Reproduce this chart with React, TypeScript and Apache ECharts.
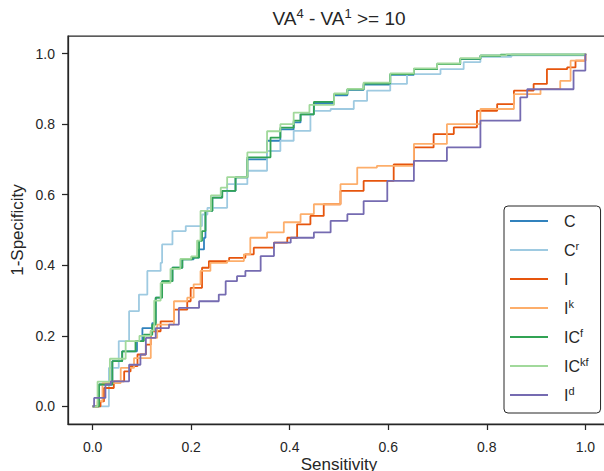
import React, { useEffect, useRef } from "react";
import * as echarts from "echarts";

const TICKS = [0, 0.2, 0.4, 0.6, 0.8, 1.0];

const C_PTS = [[0,0],[0.013,0.062],[0.04,0.128],[0.06,0.156],[0.09,0.185],[0.101,0.222],[0.121,0.236],[0.128,0.308],[0.141,0.355],[0.162,0.393],[0.182,0.417],[0.205,0.422],[0.216,0.445],[0.226,0.478],[0.229,0.554],[0.243,0.592],[0.263,0.611],[0.29,0.649],[0.314,0.7],[0.354,0.753],[0.381,0.785],[0.408,0.805],[0.422,0.828],[0.449,0.86],[0.49,0.882],[0.517,0.897],[0.55,0.912],[0.604,0.94],[0.652,0.956],[0.699,0.97],[0.746,0.985],[0.787,0.994],[0.85,0.997],[1,1]];
const CR_PTS = [[0,0],[0.033,0.109],[0.053,0.185],[0.074,0.27],[0.094,0.317],[0.111,0.384],[0.138,0.407],[0.141,0.459],[0.162,0.497],[0.189,0.511],[0.212,0.511],[0.222,0.544],[0.233,0.563],[0.273,0.63],[0.314,0.668],[0.354,0.724],[0.381,0.753],[0.408,0.781],[0.442,0.828],[0.449,0.838],[0.483,0.843],[0.53,0.866],[0.557,0.895],[0.604,0.914],[0.638,0.942],[0.706,0.956],[0.753,0.976],[0.787,0.991],[0.85,0.995],[1,1]];
const I_PTS = [[0,0],[0.016,0.014],[0.023,0.052],[0.043,0.071],[0.064,0.099],[0.077,0.114],[0.091,0.147],[0.108,0.175],[0.118,0.213],[0.138,0.241],[0.165,0.274],[0.192,0.298],[0.199,0.336],[0.222,0.393],[0.236,0.412],[0.27,0.412],[0.277,0.421],[0.31,0.431],[0.327,0.45],[0.368,0.464],[0.395,0.478],[0.415,0.516],[0.442,0.54],[0.469,0.573],[0.503,0.611],[0.55,0.639],[0.611,0.686],[0.652,0.734],[0.692,0.772],[0.733,0.791],[0.78,0.838],[0.821,0.857],[0.855,0.895],[0.895,0.914],[0.922,0.956],[0.963,0.961],[0.98,0.98],[1,1]];
const IK_PTS = [[0,0],[0.01,0.014],[0.02,0.066],[0.057,0.109],[0.084,0.137],[0.118,0.194],[0.131,0.232],[0.165,0.298],[0.192,0.308],[0.205,0.346],[0.219,0.384],[0.239,0.407],[0.273,0.412],[0.307,0.431],[0.32,0.478],[0.354,0.493],[0.388,0.522],[0.422,0.545],[0.449,0.573],[0.503,0.63],[0.537,0.677],[0.577,0.682],[0.652,0.744],[0.719,0.8],[0.787,0.843],[0.855,0.885],[0.909,0.9],[0.949,0.923],[0.97,0.98],[1,1]];
const ICF_PTS = [[0,0],[0.013,0.062],[0.04,0.128],[0.06,0.156],[0.087,0.185],[0.104,0.203],[0.121,0.232],[0.128,0.308],[0.141,0.355],[0.162,0.393],[0.182,0.417],[0.202,0.422],[0.216,0.469],[0.222,0.497],[0.229,0.554],[0.243,0.592],[0.263,0.611],[0.29,0.649],[0.314,0.706],[0.361,0.762],[0.381,0.79],[0.408,0.81],[0.422,0.828],[0.449,0.863],[0.49,0.885],[0.517,0.899],[0.55,0.915],[0.604,0.942],[0.652,0.956],[0.699,0.97],[0.746,0.985],[0.787,0.994],[0.828,0.997],[1,1]];
const ICKF_PTS = [[0,0],[0.01,0.07],[0.035,0.135],[0.067,0.185],[0.095,0.2],[0.118,0.215],[0.125,0.3],[0.138,0.35],[0.158,0.39],[0.178,0.418],[0.2,0.425],[0.212,0.47],[0.219,0.554],[0.24,0.598],[0.26,0.62],[0.273,0.65],[0.314,0.72],[0.354,0.78],[0.381,0.8],[0.408,0.833],[0.44,0.855],[0.49,0.887],[0.517,0.9],[0.55,0.918],[0.604,0.944],[0.652,0.958],[0.699,0.972],[0.746,0.987],[0.787,0.995],[0.84,0.998],[1,1]];
const ID_PTS = [[0,0],[0.003,0.024],[0.026,0.062],[0.037,0.071],[0.074,0.118],[0.097,0.147],[0.108,0.194],[0.128,0.222],[0.155,0.232],[0.175,0.279],[0.216,0.298],[0.256,0.317],[0.27,0.355],[0.293,0.369],[0.31,0.384],[0.341,0.426],[0.368,0.464],[0.402,0.478],[0.449,0.493],[0.483,0.526],[0.517,0.545],[0.55,0.582],[0.598,0.639],[0.652,0.696],[0.719,0.734],[0.787,0.81],[0.868,0.876],[0.882,0.899],[0.936,0.899],[0.976,0.952],[1,1]];

const SERIES_NAMES = ["C", "Cr", "I", "Ik", "ICf", "ICkf", "Id"];
const LEGEND_BASE = ["C", "C", "I", "I", "IC", "IC", "I"];
const LEGEND_SUP = ["", "r", "", "k", "f", "kf", "d"];
const COLORS = ["#3182bd", "#9ecae1", "#e6550d", "#fdae6b", "#31a354", "#a1d99b", "#756bb1"];
const SERIES_DATA = [C_PTS, CR_PTS, I_PTS, IK_PTS, ICF_PTS, ICKF_PTS, ID_PTS];

const TXT = "#262626";
const FONT = "Liberation Sans";
// legend line icon: a 38x20 box with a 2px bar through its middle
const LINE_ICON = "path://M0,0L0.01,0L0,0.01Z M0,9L38,9L38,11L0,11Z M38,20L37.99,20L38,19.99Z";

export default function App() {
  const ref = useRef<HTMLDivElement>(null);
  useEffect(() => {
    const chart = echarts.init(ref.current!, null, { renderer: "svg" });
    const axisCommon = {
      type: "value",
      min: -0.05,
      max: 1.05,
      nameLocation: "middle",
      nameMoveOverlap: false,
      nameTextStyle: { fontSize: 17, color: TXT, fontFamily: FONT },
      axisLine: { show: true, onZero: false, lineStyle: { color: TXT, width: 1.25 } },
      axisTick: { show: true, length: 6, inside: false, customValues: TICKS, lineStyle: { color: TXT, width: 1.25 } },
      splitLine: { show: false },
    };
    const labelCommon = { customValues: TICKS, formatter: (v: number) => v.toFixed(1), fontSize: 14, color: TXT, fontFamily: FONT };
    chart.setOption({
      animation: false,
      backgroundColor: "#fff",
      title: {
        text: "{b|VA}{s|4}{b| - VA}{s|1}{b| >= 10}",
        left: 339,
        textAlign: "center",
        top: 7,
        padding: 0,
        textStyle: {
          fontFamily: FONT,
          color: TXT,
          fontWeight: "normal",
          fontSize: 19,
          rich: {
            b: { fontSize: 19, lineHeight: 22, color: TXT, fontFamily: FONT },
            s: { fontSize: 13, lineHeight: 12, verticalAlign: "top", color: TXT, fontFamily: FONT },
          },
        },
      },
      grid: { left: 68, top: 36, width: 542, height: 388, show: true, borderColor: TXT, borderWidth: 1.25, containLabel: false, outerBoundsMode: "none" },
      xAxis: { ...axisCommon, name: "Sensitivity", nameGap: 32, axisLabel: { ...labelCommon, margin: 16 } },
      yAxis: { ...axisCommon, name: "1-Specificity", nameGap: 42, axisLabel: { ...labelCommon, margin: 13 } },
      legend: {
        orient: "vertical",
        left: 504,
        top: 206,
        icon: LINE_ICON,
        itemWidth: 38,
        itemHeight: 20,
        itemGap: 9,
        padding: [5, 12, 8, 6],
        borderColor: TXT,
        borderWidth: 1,
        borderRadius: 4,
        backgroundColor: "#fff",
        data: SERIES_NAMES,
        formatter: (name: string) => {
          const i = SERIES_NAMES.indexOf(name);
          return LEGEND_SUP[i] ? `{b|${LEGEND_BASE[i]}}{s|${LEGEND_SUP[i]}}` : `{b|${LEGEND_BASE[i]}}`;
        },
        textStyle: {
          fontFamily: FONT,
          fontSize: 16,
          color: TXT,
          padding: [0, 0, 0, 11],
          rich: {
            b: { fontSize: 16, lineHeight: 20, color: TXT, fontFamily: FONT },
            s: { fontSize: 11, lineHeight: 10, verticalAlign: "top", color: TXT, fontFamily: FONT },
          },
        },
      },
      series: SERIES_NAMES.map((n, i) => ({
        name: n,
        type: "line",
        step: "end",
        symbol: "none",
        showSymbol: false,
        data: SERIES_DATA[i],
        color: COLORS[i],
        itemStyle: { color: COLORS[i] },
        lineStyle: { width: 1.8, color: COLORS[i] },
        z: 2 + i * 0.01,
      })),
    });
    return () => chart.dispose();
  }, []);
  return <div ref={ref} style={{ position: "fixed", left: 0, top: 0, width: 604, height: 471 }} />;
}
